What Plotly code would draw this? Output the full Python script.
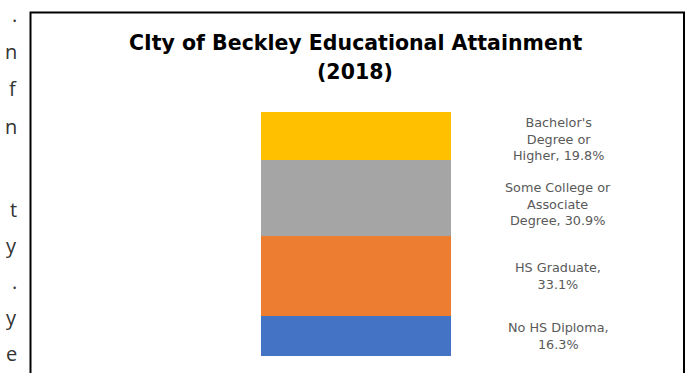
import plotly.graph_objects as go

# Educational attainment shares, City of Beckley (2018)
categories = [
    "No HS Diploma",
    "HS Graduate",
    "Some College or Associate Degree",
    "Bachelor's Degree or Higher",
]
label_names = [
    "No HS Diploma,",
    "HS Graduate,",
    "Some College or<br>Associate<br>Degree, ",
    "Bachelor's<br>Degree or<br>Higher, ",
]
values = [16.3, 33.1, 30.9, 19.8]
colors = ["#4472C4", "#ED7D31", "#A5A5A5", "#FFC000"]

# Line ends of the neighbouring page text that the chart box sits beside
side_text = [".", "n", "f", "n", "t", "y", ".", "y", "e"]

W, H = 693, 373


def px(x):
    return x / W


def py(y):
    return 1 - y / H


fig = go.Figure()
for cat, val, col in zip(categories, values, colors):
    fig.add_trace(go.Bar(
        x=[0], y=[val], width=1, name=cat,
        marker=dict(color=col, line=dict(width=0)),
        hoverinfo="name+y",
    ))

annotations = []

# Data labels beside each stacked segment
label_nudge = {"Bachelor's Degree or Higher": -3, "Some College or Associate Degree": -6}
base = 0.0
for cat, name, val in zip(categories, label_names, values):
    sep = "<br>" if name.endswith(",") else ""
    annotations.append(dict(
        x=px(558), xref="paper", y=base + val / 2, yref="y",
        text=f"{name}{sep}{val:.1f}%", showarrow=False,
        xanchor="center", yanchor="middle", align="center",
        yshift=label_nudge.get(cat, 0),
        font=dict(family="DejaVu Sans", size=12.8, color="#595959"),
    ))
    base += val

# Chart title, two lines
title_font = dict(family="DejaVu Sans", size=20.5, color="#000000", weight="bold")
annotations.append(dict(x=px(355), y=py(43), xref="paper", yref="paper",
                        text="<b>CIty of Beckley Educational Attainment</b>",
                        showarrow=False, xanchor="center", yanchor="middle",
                        font=title_font))
annotations.append(dict(x=px(355), y=py(72), xref="paper", yref="paper",
                        text="<b>(2018)</b>",
                        showarrow=False, xanchor="center", yanchor="middle",
                        font=title_font))

# Page text to the left of the chart
side_rows = [14, 52, 89, 126, 209, 245, 281, 317, 353]
for ch, yy in zip(side_text, side_rows):
    annotations.append(dict(x=px(19), y=py(yy), xref="paper", yref="paper",
                            text=ch, showarrow=False, xanchor="right",
                            yanchor="middle",
                            font=dict(family="Open Sans", size=20, color="#333333")))

fig.update_layout(
    width=W, height=H,
    margin=dict(l=0, r=0, t=0, b=0),
    paper_bgcolor="white", plot_bgcolor="white",
    barmode="stack", bargap=0,
    showlegend=False,
    xaxis=dict(domain=[px(261), px(451)], range=[-0.5, 0.5], visible=False, fixedrange=True),
    yaxis=dict(domain=[py(356), py(112)], range=[0, sum(values)], visible=False, fixedrange=True),
    annotations=annotations,
    shapes=[dict(type="rect", xref="paper", yref="paper",
                 x0=px(30.5), x1=px(684), y0=-0.2, y1=py(12.5),
                 line=dict(color="black", width=2), fillcolor="rgba(0,0,0,0)")],
)

fig.write_html("out.html")
